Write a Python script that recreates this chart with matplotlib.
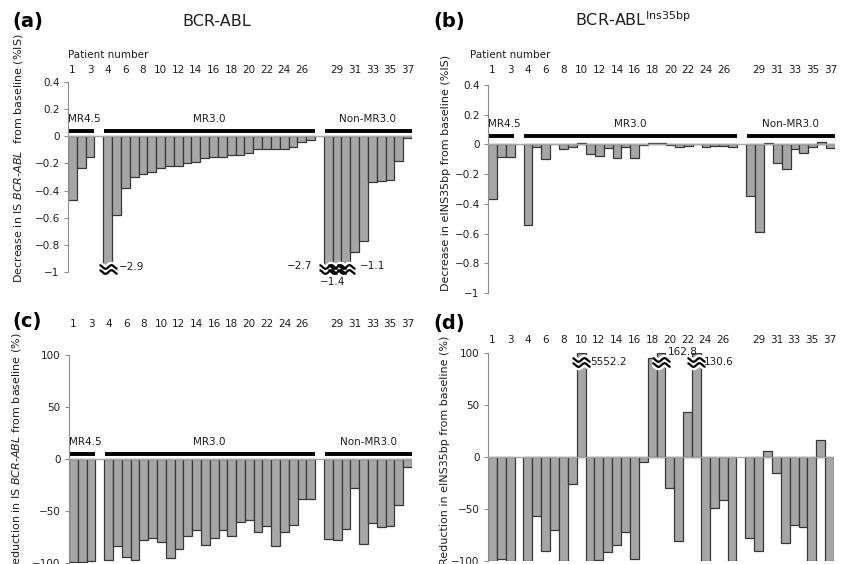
"""Four-panel bar chart: IS BCR-ABL and eINS35bp changes from baseline per patient."""

import numpy as np
import matplotlib.pyplot as plt
from matplotlib.path import Path

plt.rcParams['font.family'] = ['DejaVu Sans']

W, H = 845, 564

group_names = ["MR4.5", "MR3.0", "Non-MR3.0"]
group_sizes = [3, 24, 10]
tick_patients = [1, 3, 4, 6, 8, 10, 12, 14, 16, 18, 20, 22, 24, 26,
                 29, 31, 33, 35, 37]

# (a) decrease in IS BCR-ABL from baseline (%IS), patients 1..37
is_decrease = [
    -0.47, -0.23, -0.15,
    -2.9, -0.58, -0.38, -0.30, -0.28, -0.26, -0.23, -0.22, -0.22, -0.20,
    -0.19, -0.16, -0.15, -0.15, -0.14, -0.14, -0.12, -0.09, -0.09, -0.09,
    -0.09, -0.08, -0.04, -0.03,
    -2.7, -1.4, -1.1, -0.85, -0.77, -0.34, -0.33, -0.32, -0.18, -0.015,
]

# (b) decrease in eINS35bp from baseline (%IS)
ins_decrease = [
    -0.37, -0.085, -0.085,
    -0.54, -0.02, -0.10, 0.0, -0.03, -0.015, 0.012, -0.067, -0.078, -0.022,
    -0.09, -0.02, -0.09, -0.004, 0.007, 0.011, -0.007, -0.016, -0.01, 0.0,
    -0.018, -0.01, -0.01, -0.015,
    -0.35, -0.59, 0.01, -0.127, -0.167, -0.033, -0.058, -0.016, 0.018, -0.027,
]

# (c) reduction in IS BCR-ABL from baseline (%)
is_reduction = [
    -99, -99, -98,
    -97.5, -84, -94, -97, -77.5, -76, -80, -95, -87, -74, -68, -83, -76,
    -68, -74, -61, -59, -70.5, -64, -84, -70, -63.5, -38, -38,
    -77, -78, -67, -28, -82, -62, -65, -64, -44, -8,
]

# (d) reduction in eINS35bp from baseline (%)
ins_reduction = [
    -100, -98, -100,
    -100, -57, -90, -70, -100, -26, 5552.2, -100, -99, -91, -85, -72, -98,
    -5, 95, 162.8, -30, -81, 43, 130.6, -100, -49, -41, -100,
    -78, -90, 6, -15, -83, -65, -67, -100, 16, -100,
]

BAR_FACE = "#a6a6a6"
BAR_EDGE = "#383838"
TEXT = "#1e1e1e"


def patient_slots():
    slots, spans, start = [], [], 0
    for size in group_sizes:
        slots += list(range(start, start + size))
        spans.append((start - 0.5, start + size - 0.5))
        start += size + 1
    return np.array(slots), spans, start - 1


SLOTS, SPANS, N_SLOTS = patient_slots()


def wave_marker():
    # double wavy "axis break" symbol used as a marker
    t = np.linspace(-1, 1, 40)
    upper = np.column_stack([t, 0.28 + 0.2 * np.sin(np.pi * 1.5 * t)])
    lower = upper - [0, 0.56]
    verts = np.concatenate([upper, lower])
    codes = ([Path.MOVETO] + [Path.LINETO] * (len(t) - 1)) * 2
    return Path(verts, codes)


WAVE = wave_marker()


def add_panel(fig, box):
    x0, y0, x1, y1 = box
    return fig.add_axes([x0 / W, 1 - y1 / H, (x1 - x0) / W, (y1 - y0) / H])


def minus(v):
    s = f"{v:g}"
    return "0" if s in ("0", "-0") else s.replace("-", "\u2212")


def draw_bars(ax, values, ylim, yticks, tick_pad, breaks=(), break_y=None):
    vals = np.array(values, dtype=float)
    shown = np.clip(vals, ylim[0], ylim[1])
    ax.bar(SLOTS, shown, width=1.0, color=BAR_FACE, edgecolor=BAR_EDGE,
           linewidth=0.9, zorder=2)
    ax.axhline(0, color="#a8a8a8", lw=1.0, zorder=3)
    ax.set_xlim(-0.5, N_SLOTS - 0.5)
    ax.set_ylim(*ylim)

    ax.set_yticks(yticks)
    ax.set_yticklabels([minus(t) for t in yticks])
    ax.tick_params(axis="y", direction="out", length=3, width=0.8,
                   color="#8c8c8c", labelsize=7.5, labelcolor=TEXT, pad=3)

    idx = [p - 1 for p in tick_patients]
    ax.set_xticks(SLOTS[idx])
    ax.set_xticklabels([str(p) for p in tick_patients])
    ax.xaxis.tick_top()
    ax.tick_params(axis="x", length=0, pad=tick_pad, labelsize=7.5,
                   labelcolor=TEXT)

    for side in ("top", "right", "bottom"):
        ax.spines[side].set_visible(False)
    ax.spines["left"].set_color("#8c8c8c")
    ax.spines["left"].set_linewidth(0.8)

    # broken bars: wavy marker and the true value
    broken = [i for i, v in enumerate(vals) if v < ylim[0] or v > ylim[1]]
    if not broken:
        return
    bx = SLOTS[broken]
    by = np.full(len(broken), break_y)
    ax.plot(bx, by, ls="none", marker=WAVE, ms=13, mfc="none", mec="white",
            mew=5, clip_on=False, zorder=5)
    ax.plot(bx, by, ls="none", marker=WAVE, ms=13, mfc="none", mec="black",
            mew=1.6, clip_on=False, zorder=6)
    for i, (dx, dy, ha) in zip(broken, breaks):
        ax.annotate(minus(vals[i]), xy=(SLOTS[i], break_y),
                    xytext=(dx * 0.72, dy * 0.72), textcoords="offset points",
                    ha=ha, va="center", fontsize=7.5, color=TEXT, zorder=7,
                    annotation_clip=False)


def draw_groups(ax, line_y, first_left=True):
    for k, (name, (s0, s1)) in enumerate(zip(group_names, SPANS)):
        ax.plot([s0 + 0.1, s1 - 0.05], [line_y, line_y], color="black",
                lw=2.8, solid_capstyle="butt", clip_on=False, zorder=4)
        if k == 0 and first_left:
            x, ha = s0, "left"
        else:
            x, ha = (s0 + s1) / 2, "center"
        ax.annotate(name, xy=(x, line_y), xytext=(0, 12 * 0.72),
                    textcoords="offset points", ha=ha, va="center",
                    fontsize=7.5, color=TEXT, annotation_clip=False)


fig = plt.figure(figsize=(W / 100, H / 100), dpi=100)

dec_ticks = [-1, -0.8, -0.6, -0.4, -0.2, 0, 0.2, 0.4]
red_ticks = [-100, -50, 0, 50, 100]

ax_a = add_panel(fig, (68, 82, 412, 272))
draw_bars(ax_a, is_decrease, (-1, 0.4), dec_ticks, tick_pad=5,
          breaks=[(11, 2, "left"), (-16, 3, "right"), (-4, -13, "center"),
                  (14, 3, "left")],
          break_y=-0.975)
draw_groups(ax_a, 0.037)

ax_b = add_panel(fig, (488, 85, 835, 293))
draw_bars(ax_b, ins_decrease, (-1, 0.4), dec_ticks, tick_pad=7)
draw_groups(ax_b, 0.06)

ax_c = add_panel(fig, (69, 355, 412, 563))
draw_bars(ax_c, is_reduction, (-100, 100), red_ticks, tick_pad=19)
draw_groups(ax_c, 5)

ax_d = add_panel(fig, (488, 353, 834, 561))
draw_bars(ax_d, ins_reduction, (-100, 100), red_ticks, tick_pad=6,
          breaks=[(9, 0, "left"), (7, 10, "left"), (7, 0, "left")],
          break_y=91)


def px_text(x, y, s, **kw):
    fig.text(x / W, 1 - y / H, s, **kw)


# panel letters and titles
for (x, y), letter in zip([(12, 21), (433, 21), (12, 321), (433, 323)],
                          ["(a)", "(b)", "(c)", "(d)"]):
    px_text(x, y, letter, fontsize=14, fontweight="bold", ha="left",
            va="center", color="black")
px_text(217, 22, "BCR-ABL", fontsize=11.5, ha="center", va="center",
        color=TEXT)
px_text(633, 20, "BCR-ABL$^{\\mathrm{Ins35bp}}$", fontsize=11.5,
        ha="center", va="center", color=TEXT)

px_text(68, 55, "Patient number", fontsize=7.5, ha="left", va="center",
        color=TEXT)
px_text(470, 55, "Patient number", fontsize=7.5, ha="left", va="center",
        color=TEXT)

# y labels
px_text(19, 33, "Decrease in IS $\\mathit{BCR}$-$\\mathit{ABL}$  from baseline (%IS)",
        fontsize=8, rotation=90, ha="center", va="top", color=TEXT)
px_text(446, 55, "Decrease in eINS35bp from baseline (%IS)",
        fontsize=8, rotation=90, ha="center", va="top", color=TEXT)
px_text(17, 333, "Reduction in IS $\\mathit{BCR}$-$\\mathit{ABL}$ from baseline (%)",
        fontsize=8, rotation=90, ha="center", va="top", color=TEXT)
px_text(445, 336, "Reduction in eINS35bp from baseline (%)",
        fontsize=8, rotation=90, ha="center", va="top", color=TEXT)

fig.savefig("out.png", dpi=100)
